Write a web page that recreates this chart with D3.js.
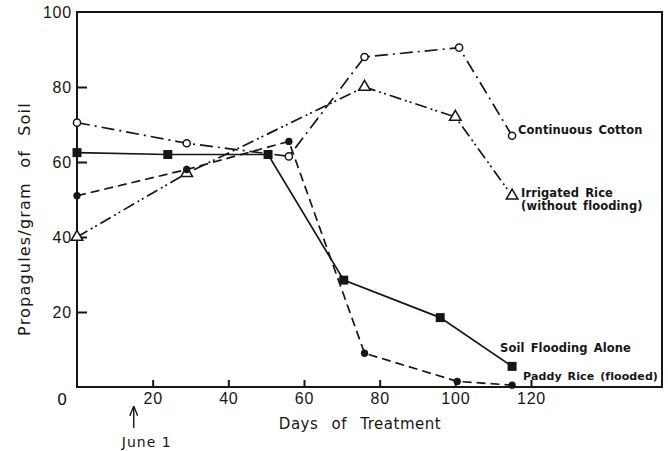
<!DOCTYPE html>
<html>
<head>
<meta charset="utf-8">
<script src="https://cdn.jsdelivr.net/npm/d3@7"></script>
<style>
  html, body { margin: 0; padding: 0; background: #fff; }
  svg { display: block; font-family: "DejaVu Sans", sans-serif; }
</style>
</head>
<body>
<svg id="chart"></svg>
<script>
// values
const cottonDays = [0, 29, 56, 76, 101, 115]
const cotton = [70.5, 65, 61.5, 88, 90.5, 67]

const irrigatedDays = [0, 29, 76, 100, 115]
const irrigated = [40, 57, 80, 72, 51]

const floodingDays = [0, 24, 50.5, 70.5, 96, 115]
const flooding = [62.5, 62, 62, 28.5, 18.5, 5.5]

const paddyDays = [0, 29, 56, 76, 100.5, 115]
const paddy = [51, 58, 65.5, 9, 1.5, 0.5]

const xTicks = [20, 40, 60, 80, 100, 120]
const yTicks = [20, 40, 60, 80, 100]

const width = 668, height = 451
const ink = '#161616'

const svg = d3.select('#chart')
  .attr('width', width)
  .attr('height', height)

const x = d3.scaleLinear().domain([0, 120]).range([77, 531])
const y = d3.scaleLinear().domain([0, 100]).range([387, 12])
const frameRight = 662

// arrow head for the June 1 mark
svg.append('defs').append('marker')
  .attr('id', 'arrow')
  .attr('viewBox', '0 -5 10 10')
  .attr('refX', 9)
  .attr('markerWidth', 7)
  .attr('markerHeight', 7)
  .attr('orient', 'auto')
  .append('path')
  .attr('d', 'M0,-4L10,0L0,4')
  .attr('fill', 'none')
  .attr('stroke', ink)
  .attr('stroke-width', 1.4)

// frame
svg.append('path')
  .attr('d', `M${x(0)},${y(100)}H${frameRight}V${y(0)}H${x(0)}Z`)
  .attr('fill', 'none')
  .attr('stroke', ink)
  .attr('stroke-width', 2)

// axes
const xAxis = svg.append('g')
  .attr('transform', `translate(0,${y(0)})`)
  .call(d3.axisBottom(x).tickValues(xTicks).tickSizeInner(-7).tickSizeOuter(0).tickPadding(6))
const yAxis = svg.append('g')
  .attr('transform', `translate(${x(0)},0)`)
  .call(d3.axisLeft(y).tickValues(yTicks).tickSizeInner(-10).tickSizeOuter(0).tickPadding(5))

for (const ax of [xAxis, yAxis]) {
  ax.select('.domain').remove()
  ax.selectAll('line').attr('stroke', ink).attr('stroke-width', 2)
  ax.selectAll('text')
    .attr('fill', ink)
    .style('font-size', '16px')
    .style('letter-spacing', '0.8px')
}
yAxis.selectAll('.tick').filter(d => d === 100).select('line').remove()

svg.append('text')
  .attr('x', x(0) - 15)
  .attr('y', y(0) + 18)
  .attr('text-anchor', 'middle')
  .attr('fill', ink)
  .style('font-size', '16px')
  .text('0')

// axis titles
svg.append('text')
  .attr('x', 360)
  .attr('y', 429)
  .attr('text-anchor', 'middle')
  .attr('fill', ink)
  .style('font-size', '15px')
  .style('letter-spacing', '0.5px')
  .style('word-spacing', '8px')
  .text('Days of Treatment')

svg.append('text')
  .attr('transform', 'translate(30,219) rotate(-90)')
  .attr('text-anchor', 'middle')
  .attr('fill', ink)
  .style('font-size', '16px')
  .style('letter-spacing', '1.2px')
  .style('word-spacing', '8px')
  .text('Propagules/gram of Soil')

// June 1 marker
svg.append('line')
  .attr('x1', x(15)).attr('x2', x(15))
  .attr('y1', 428).attr('y2', 407)
  .attr('stroke', ink)
  .attr('stroke-width', 1.4)
  .attr('marker-end', 'url(#arrow)')
svg.append('text')
  .attr('x', x(15) + 13)
  .attr('y', 447)
  .attr('text-anchor', 'middle')
  .attr('fill', ink)
  .style('font-size', '14px')
  .style('letter-spacing', '1px')
  .text('June 1')

// series
const series = [
  { name: 'cotton', days: cottonDays, vals: cotton, dash: '13,5,2,5', mark: 'openCircle' },
  { name: 'irrigated', days: irrigatedDays, vals: irrigated, dash: '12,4,2,3,2,4', mark: 'triangle' },
  { name: 'flooding', days: floodingDays, vals: flooding, dash: null, mark: 'square' },
  { name: 'paddy', days: paddyDays, vals: paddy, dash: '9,5', mark: 'dot' }
]

const line = d3.line().x(d => x(d[0])).y(d => y(d[1]))

series.forEach(s => {
  s.points = s.days.map((d, i) => [d, s.vals[i]])
  svg.append('path')
    .datum(s.points)
    .attr('d', line)
    .attr('fill', 'none')
    .attr('stroke', ink)
    .attr('stroke-width', 1.7)
    .attr('stroke-dasharray', s.dash)
})

series.forEach(s => {
  const g = svg.append('g')
    .selectAll('path')
    .data(s.points)
    .enter()
    .append('path')
    .attr('transform', d => `translate(${x(d[0])},${y(d[1])})`)
  if (s.mark === 'openCircle') {
    g.attr('d', d3.symbol(d3.symbolCircle, 40)).attr('fill', '#fff').attr('stroke', ink).attr('stroke-width', 1.5)
  } else if (s.mark === 'triangle') {
    g.attr('d', d3.symbol(d3.symbolTriangle, 58)).attr('fill', '#fff').attr('stroke', ink).attr('stroke-width', 1.5)
  } else if (s.mark === 'square') {
    g.attr('d', d3.symbol(d3.symbolSquare, 81)).attr('fill', ink)
  } else {
    g.attr('d', d3.symbol(d3.symbolCircle, 42)).attr('fill', ink)
  }
})

// series labels, placed from the last point of each line
function label(s, dx, dy, lines, size = 11.5) {
  const p = s.points[s.points.length - 1]
  const t = svg.append('text')
    .attr('x', x(p[0]) + dx)
    .attr('y', y(p[1]) + dy)
    .attr('fill', ink)
    .style('font-size', size + 'px')
    .style('font-weight', 'bold')
    .style('letter-spacing', '0.1px')
    .style('word-spacing', '2px')
  lines.forEach((l, i) => {
    t.append('tspan')
      .attr('x', x(p[0]) + dx)
      .attr('dy', i === 0 ? 0 : 13)
      .text(l)
  })
}

label(series[0], 6, -2, ['Continuous Cotton'])
label(series[1], 9, 1, ['Irrigated Rice', '(without flooding)'])
label(series[2], -12, -14, ['Soil Flooding Alone'])
label(series[3], 11, -5, ['Paddy Rice (flooded)'], 11)
</script>
</body>
</html>
